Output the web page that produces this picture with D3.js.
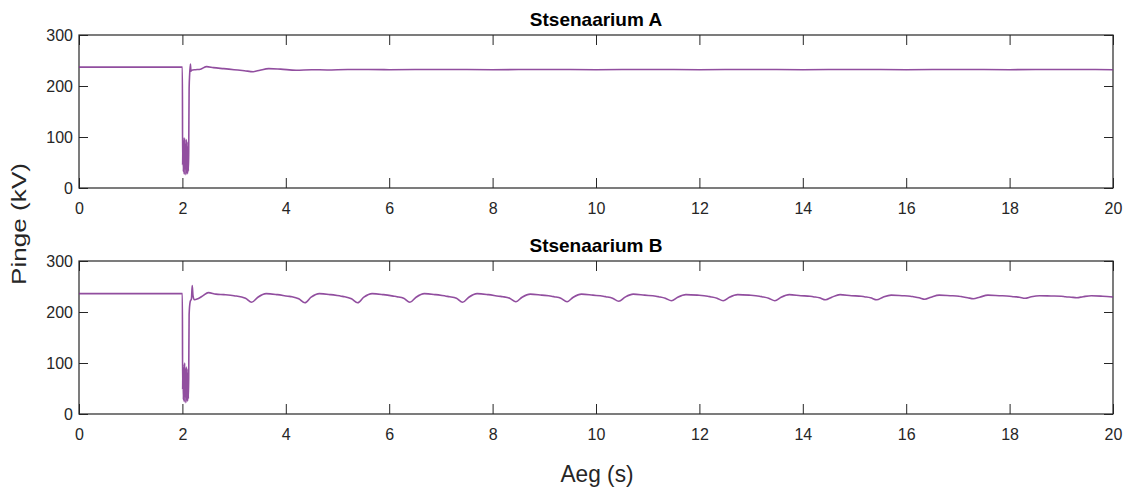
<!DOCTYPE html>
<html lang="en">
<head>
    <meta charset="UTF-8">
    <script src="https://cdnjs.cloudflare.com/ajax/libs/d3/7.9.0/d3.min.js"></script>
    <title>Pinge</title>
    <style>
        body {
            margin: 0;
            background-color: white;
            font-family: "Liberation Sans", Arial, sans-serif;
        }
        svg {
            display: block;
        }
        .tick text {
            font-size: 16px;
            font-family: "Liberation Sans", Arial, sans-serif;
        }
    </style>
</head>
<body>
    <div id="content"></div>
    <script>
        // --- data ---
        const xTicks = [0, 2, 4, 6, 8, 10, 12, 14, 16, 18, 20];
        const yTicks = [0, 100, 200, 300];

        // Stsenaarium A
        const timeA = [0, 2.0, 2.004, 2.011, 2.019, 2.027, 2.035, 2.043, 2.051, 2.059, 2.067, 2.075, 2.083, 2.091, 2.099, 2.107, 2.115, 2.122,
            2.13, 2.14, 2.155, 2.165, 2.18, 2.25, 2.35, 2.47, 2.6, 2.8, 3.0, 3.2, 3.37, 3.5, 3.67, 3.9, 4.2, 4.5, 4.8, 5.2,
            6, 7, 8, 9, 10, 11, 12, 13, 14, 15, 16, 17, 18, 19, 20];
        const voltA = [237, 237, 45, 100, 32, 92, 27, 98, 38, 85, 26, 95, 30, 80, 28, 90, 33, 70,
            195, 222, 243, 229, 231, 232, 233, 238, 236, 234, 232, 230, 228, 231, 234, 233, 231, 232, 231.5, 232.5,
            232, 232.5, 232, 232.5, 232, 232.5, 232, 232.5, 232, 232.5, 232, 232.5, 232, 232.5, 232];

        // Stsenaarium B
        const timeB = [0, 2.0, 2.004, 2.011, 2.019, 2.027, 2.035, 2.043, 2.051, 2.059, 2.067, 2.075, 2.083, 2.091, 2.099, 2.107, 2.115, 2.122,
            2.13, 2.15, 2.175, 2.19, 2.205, 2.23, 2.3, 2.4, 2.5, 2.65, 2.8, 3.0,
            3.22, 3.34, 3.46, 3.62, 3.84, 4.04,
            4.12, 4.25, 4.37, 4.49, 4.65, 4.87, 5.07,
            5.14, 5.27, 5.39, 5.51, 5.67, 5.89, 6.09,
            6.15, 6.28, 6.40, 6.52, 6.68, 6.90, 7.10,
            7.17, 7.30, 7.42, 7.54, 7.70, 7.92, 8.12,
            8.20, 8.33, 8.45, 8.57, 8.73, 8.95, 9.14,
            9.19, 9.32, 9.44, 9.56, 9.72, 9.94, 10.14,
            10.19, 10.32, 10.44, 10.56, 10.72, 10.94, 11.16,
            11.21, 11.34, 11.46, 11.58, 11.74, 11.96, 12.16,
            12.21, 12.34, 12.46, 12.58, 12.74, 12.96, 13.16,
            13.21, 13.34, 13.46, 13.58, 13.74, 13.96, 14.14,
            14.20, 14.32, 14.44, 14.56, 14.72, 14.94, 15.13,
            15.19, 15.31, 15.43, 15.55, 15.71, 15.92, 16.08,
            16.14, 16.25, 16.36, 16.48, 16.64, 16.85, 17.02,
            17.08, 17.19, 17.30, 17.42, 17.58, 17.80, 18.00,
            18.08, 18.19, 18.30, 18.42, 18.58, 18.80, 19.00,
            19.08, 19.19, 19.30, 19.42, 19.58, 19.80, 20.0];
        const voltB = [236, 236, 48, 98, 28, 90, 24, 100, 34, 86, 22, 92, 28, 80, 25, 88, 30, 72,
            195, 220, 226, 252, 232, 224, 226, 232, 238, 235, 234, 232,
            227, 219, 229, 236, 234, 231,
            230, 226, 218, 229, 236, 234, 231,
            230, 226, 218, 229, 236, 234, 231,
            230, 227, 219, 229, 236, 234, 231,
            230, 227, 219, 229, 236, 234, 231,
            230, 227, 220, 229, 235, 233, 231,
            230, 227, 220, 229, 235, 233, 231,
            230, 227, 221, 229, 235, 233, 231,
            230, 227, 222, 229, 234, 233, 231,
            230, 227, 222, 229, 234, 233, 231,
            230, 227, 222, 229, 234, 232, 231,
            230, 228, 224, 229, 234, 232, 231,
            230, 228, 224, 229, 233, 232, 231,
            230, 228, 225, 229, 233, 232, 231,
            230, 228, 226, 229, 233, 232, 231,
            230, 229, 227, 230, 232, 231.5, 231,
            230, 229, 228, 230, 232, 231, 229.5];

        const titles = ["Stsenaarium A", "Stsenaarium B"];

        // --- layout ---
        const width = 1132;
        const height = 495;
        const margin = { left: 79, right: 19 };
        const panelTops = [35, 261];
        const panelHeight = 153;
        const lineColor = "#7E2F8E";
        const axisColor = "#262626";

        const svg = d3.select("#content")
            .append("svg")
            .attr("width", width)
            .attr("height", height);

        const x = d3.scaleLinear()
            .domain([0, 20])
            .range([margin.left, width - margin.right]);

        const series = [
            { time: timeA, volt: voltA },
            { time: timeB, volt: voltB }
        ];

        series.forEach((s, i) => {
            const top = panelTops[i];
            const bottom = top + panelHeight;

            const y = d3.scaleLinear()
                .domain([0, 300])
                .range([bottom, top]);

            const g = svg.append("g").style("color", axisColor);

            // inward ticks on all four sides (matlab style)
            g.append("g")
                .attr("transform", `translate(0,${bottom})`)
                .call(d3.axisBottom(x).tickValues(xTicks).tickSizeInner(-10).tickSizeOuter(0).tickPadding(14.5))
                .call(a => a.select(".domain").remove());

            g.append("g")
                .attr("transform", `translate(0,${top})`)
                .call(d3.axisTop(x).tickValues(xTicks).tickSizeInner(-10).tickSizeOuter(0).tickFormat(""))
                .call(a => a.select(".domain").remove());

            g.append("g")
                .attr("transform", `translate(${margin.left},0)`)
                .call(d3.axisLeft(y).tickValues(yTicks).tickSizeInner(-9).tickSizeOuter(0).tickPadding(6))
                .call(a => a.select(".domain").remove());

            g.append("g")
                .attr("transform", `translate(${width - margin.right},0)`)
                .call(d3.axisRight(y).tickValues(yTicks).tickSizeInner(-9).tickSizeOuter(0).tickFormat(""))
                .call(a => a.select(".domain").remove());

            // box
            g.append("rect")
                .attr("x", margin.left)
                .attr("y", top)
                .attr("width", width - margin.left - margin.right)
                .attr("height", panelHeight)
                .attr("fill", "none")
                .attr("stroke", axisColor)
                .attr("stroke-width", 1.2);

            const line = d3.line()
                .x((d, j) => x(s.time[j]))
                .y(d => y(d))
                .curve(d3.curveMonotoneX);

            g.append("path")
                .datum(s.volt)
                .attr("d", line)
                .attr("fill", "none")
                .attr("stroke", lineColor)
                .attr("stroke-opacity", 0.85)
                .attr("stroke-width", 1.6)
                .attr("stroke-linejoin", "round");

            g.append("text")
                .attr("x", (margin.left + width - margin.right) / 2)
                .attr("y", top - 9)
                .attr("text-anchor", "middle")
                .attr("font-size", 19)
                .attr("font-weight", "bold")
                .attr("fill", "#000")
                .text(titles[i]);
        });

        // axis labels
        svg.append("text")
            .attr("transform", "translate(26,224) rotate(-90)")
            .attr("text-anchor", "middle")
            .attr("font-size", 21)
            .attr("fill", axisColor)
            .attr("textLength", 122)
            .attr("lengthAdjust", "spacingAndGlyphs")
            .text("Pinge (kV)");

        svg.append("text")
            .attr("x", 597)
            .attr("y", 481.5)
            .attr("text-anchor", "middle")
            .attr("font-size", 24)
            .attr("fill", axisColor)
            .attr("textLength", 73)
            .attr("lengthAdjust", "spacingAndGlyphs")
            .text("Aeg (s)");
    </script>
</body>
</html>
